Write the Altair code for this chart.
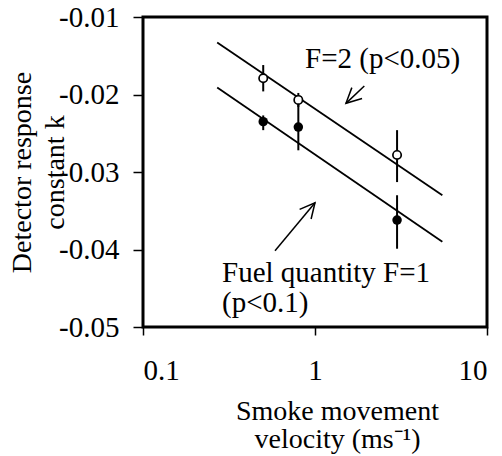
import altair as alt
import pandas as pd

# ---- data ----
velocity = [0.5, 0.8, 3.0]
k_f2 = [-0.0179, -0.0207, -0.0278]
k_f2_lo = [-0.0196, -0.0216, -0.0313]
k_f2_hi = [-0.0162, -0.0198, -0.0246]
k_f1 = [-0.0235, -0.0242, -0.0362]
k_f1_lo = [-0.0246, -0.0272, -0.0399]
k_f1_hi = [-0.0227, -0.0212, -0.0330]

fit_x = [0.27, 5.5]
fit_f2 = [-0.0133, -0.0330]
fit_f1 = [-0.0191, -0.0390]

x_ticks = [0.1, 1, 10]
y_ticks = [-0.05, -0.04, -0.03, -0.02, -0.01]

label_text = ["F=2 (p<0.05)", "Fuel quantity F=1", "(p<0.1)"]
label_x = [0.875, 0.288, 0.288]
label_y = [-0.01662, -0.0442, -0.0481]

arrow_tail_x = [1.935, 0.5855]
arrow_tail_y = [-0.0189, -0.04015]
arrow_tip_x = [1.514, 1.0]
arrow_tip_y = [-0.02114, -0.03396]

FONT = "Liberation Serif"
FS = 29
TFS = 28

pts = pd.DataFrame({"v": velocity, "k2": k_f2, "k2lo": k_f2_lo, "k2hi": k_f2_hi,
                    "k1": k_f1, "k1lo": k_f1_lo, "k1hi": k_f1_hi})
fit = pd.DataFrame({"v": fit_x, "f2": fit_f2, "f1": fit_f1})
labels = pd.DataFrame({"t": label_text, "x": label_x, "y": label_y})
arrows = pd.DataFrame({"tx": arrow_tail_x, "ty": arrow_tail_y,
                       "hx": arrow_tip_x, "hy": arrow_tip_y})

xs = alt.Scale(type="log", domain=[0.1, 10], nice=False)
ys = alt.Scale(domain=[-0.05, -0.01], nice=False, zero=False)

x_axis = alt.Axis(values=x_ticks, format="~g", grid=False, domain=False,
                  tickSize=8, tickWidth=1.5, tickColor="black",
                  labelFont=FONT, labelFontSize=FS, labelColor="black", labelPadding=21,
                  title=["Smoke movement", "velocity (ms\u207b\u00b9)"],
                  titleFont=FONT, titleFontSize=TFS, titleFontWeight="normal",
                  titleColor="black", titleX=194, titleY=84, titleAlign="center",
                  titleBaseline="middle", titleLineHeight=28)
y_axis = alt.Axis(values=y_ticks, labelExpr="'-' + format(-datum.value, '.2f')",
                  grid=False, domain=False, tickSize=10, tickWidth=1.5, tickColor="black",
                  labelFont=FONT, labelFontSize=FS, labelColor="black", labelPadding=14,
                  title=["Detector response", "constant k"],
                  titleFont=FONT, titleFontSize=TFS, titleFontWeight="normal",
                  titleColor="black", titleX=-121, titleY=155, titleAngle=-90,
                  titleAlign="center", titleBaseline="middle", titleLineHeight=33)

base_fit = alt.Chart(fit)
line2 = base_fit.mark_line(color="black", strokeWidth=1.8).encode(
    x=alt.X("v:Q", scale=xs, axis=x_axis), y=alt.Y("f2:Q", scale=ys, axis=y_axis))
line1 = base_fit.mark_line(color="black", strokeWidth=1.8).encode(
    x=alt.X("v:Q", scale=xs), y=alt.Y("f1:Q", scale=ys))

base = alt.Chart(pts)
err2 = base.mark_rule(color="black", strokeWidth=2).encode(
    x=alt.X("v:Q", scale=xs), y=alt.Y("k2lo:Q", scale=ys), y2="k2hi:Q")
err1 = base.mark_rule(color="black", strokeWidth=2).encode(
    x=alt.X("v:Q", scale=xs), y=alt.Y("k1lo:Q", scale=ys), y2="k1hi:Q")
open_pts = base.mark_point(shape="circle", filled=True, fill="white", stroke="black",
                           strokeWidth=1.7, size=70, opacity=1).encode(
    x=alt.X("v:Q", scale=xs), y=alt.Y("k2:Q", scale=ys))
fill_pts = base.mark_circle(color="black", size=90, opacity=1).encode(
    x=alt.X("v:Q", scale=xs), y=alt.Y("k1:Q", scale=ys))

text = alt.Chart(labels).mark_text(font=FONT, fontSize=29, align="left",
                                   baseline="alphabetic", color="black").encode(
    x=alt.X("x:Q", scale=xs), y=alt.Y("y:Q", scale=ys), text="t:N")

shafts = alt.Chart(arrows).mark_rule(color="black", strokeWidth=1.5).encode(
    x=alt.X("tx:Q", scale=xs), y=alt.Y("ty:Q", scale=ys),
    x2="hx:Q", y2="hy:Q")

chevron = "M-1,-0.5L0,0L-1,0.5"
heads = []
for i, ang in enumerate([137, 310]):
    heads.append(
        alt.Chart(arrows.iloc[[i]]).mark_point(shape=chevron, filled=False, stroke="black",
                                               strokeWidth=1.5, size=900, opacity=1,
                                               angle=ang).encode(
            x=alt.X("hx:Q", scale=xs), y=alt.Y("hy:Q", scale=ys))
    )

chart = alt.layer(line2, line1, err2, err1, open_pts, fill_pts, text, shafts, *heads).properties(
    width=344, height=310, autosize="none",
    padding={"left": 143, "top": 17, "right": 15, "bottom": 129},
).configure(background="white").configure_view(stroke="black", strokeWidth=3)

chart.save("out.html", embed_options={"renderer": "svg", "actions": False})
